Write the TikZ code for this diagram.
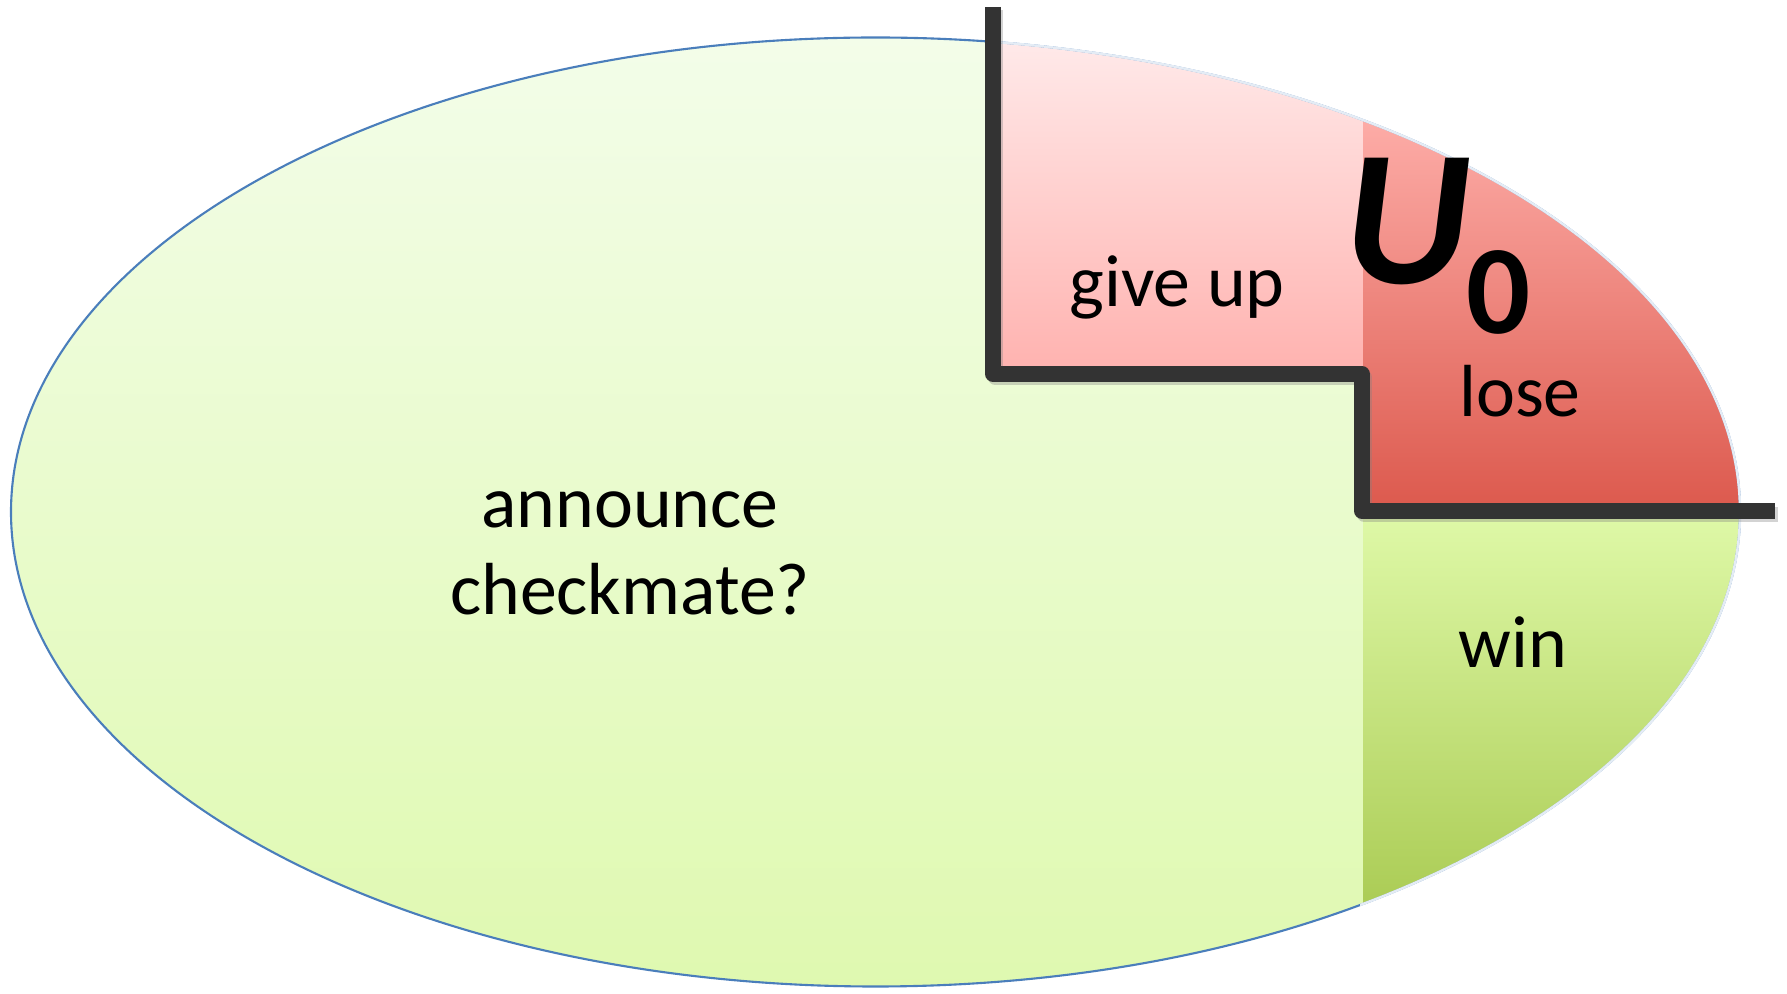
\documentclass[tikz,border=0pt]{standalone}
\usepackage{fontspec}
\setmainfont{Carlito}
\usepackage{tikz}
\usetikzlibrary{shadings}

\definecolor{blueline}{HTML}{4A7EBB}
\definecolor{borderline}{HTML}{333333}
\definecolor{greentop}{HTML}{F3FDE9}
\definecolor{greenbot}{HTML}{DFF9B0}
\definecolor{gupTop}{HTML}{FFEAEA}
\definecolor{gupBot}{HTML}{FFB2AF}
\definecolor{loseTop}{HTML}{FDACA7}
\definecolor{loseBot}{HTML}{DC594D}
\definecolor{winTop}{HTML}{DFF9A8}
\definecolor{winBot}{HTML}{ABCC55}

\begin{document}
\begin{tikzpicture}[
    label/.style={inner sep=0pt, anchor=base, font=\fontsize{21}{25}\selectfont, align=center},
    border/.style={line width=4.5pt, line join=round, color=borderline}
    ]
    \useasboundingbox (0,0) rectangle (17.87,9.93);

    % draws regions
    \path[shade, top color=greentop, bottom color=greenbot] (8.755,4.81) ellipse [x radius=8.645, y radius=4.745];
    \begin{scope}
        \clip (8.755,4.81) ellipse [x radius=8.645, y radius=4.745];
        \shade[top color=gupTop, bottom color=gupBot] (9.93,6.19) rectangle (13.63,9.56);
        \shade[top color=loseTop, bottom color=loseBot] (13.63,4.82) rectangle (17.5,8.73);
        \shade[top color=winTop, bottom color=winBot] (13.63,0.88) rectangle (17.5,4.82);
    \end{scope}
    \draw[blueline, line width=0.6pt] (8.755,4.81) ellipse [x radius=8.645, y radius=4.745];
    \begin{scope}
        \clip (9.9,6.19) rectangle (17.87,9.93) (13.6,0) rectangle (17.87,6.2);
        \draw[white!85!blueline, line width=0.7pt] (8.755,4.81) ellipse [x radius=8.645, y radius=4.745];
    \end{scope}

    % labels regions
    \node[label] (announce) at (6.30,3.78) {announce\\checkmate?};
    \node[label] (giveup) at (11.77,6.86) {give up};
    \node[label] (lose) at (15.20,5.76) {lose};
    \node[label] (win) at (15.13,3.25) {win};
    \node[inner sep=0pt, anchor=base, font=\fontsize{55}{55}\selectfont\bfseries\itshape] (U) at (14.08,7.09) {U};
    \node[inner sep=0pt, anchor=base west, font=\fontsize{36}{36}\selectfont\bfseries] (zero) at (14.66,6.59) {0};

    % draws border
    \draw[border, gray, opacity=0.35, shift={(0.025,-0.035)}] (9.93,9.86) -- (9.93,6.19) -- (13.62,6.19) -- (13.62,4.82) -- (17.75,4.82);
    \draw[border] (9.93,9.86) -- (9.93,6.19) -- (13.62,6.19) -- (13.62,4.82) -- (17.75,4.82);
\end{tikzpicture}
\end{document}
